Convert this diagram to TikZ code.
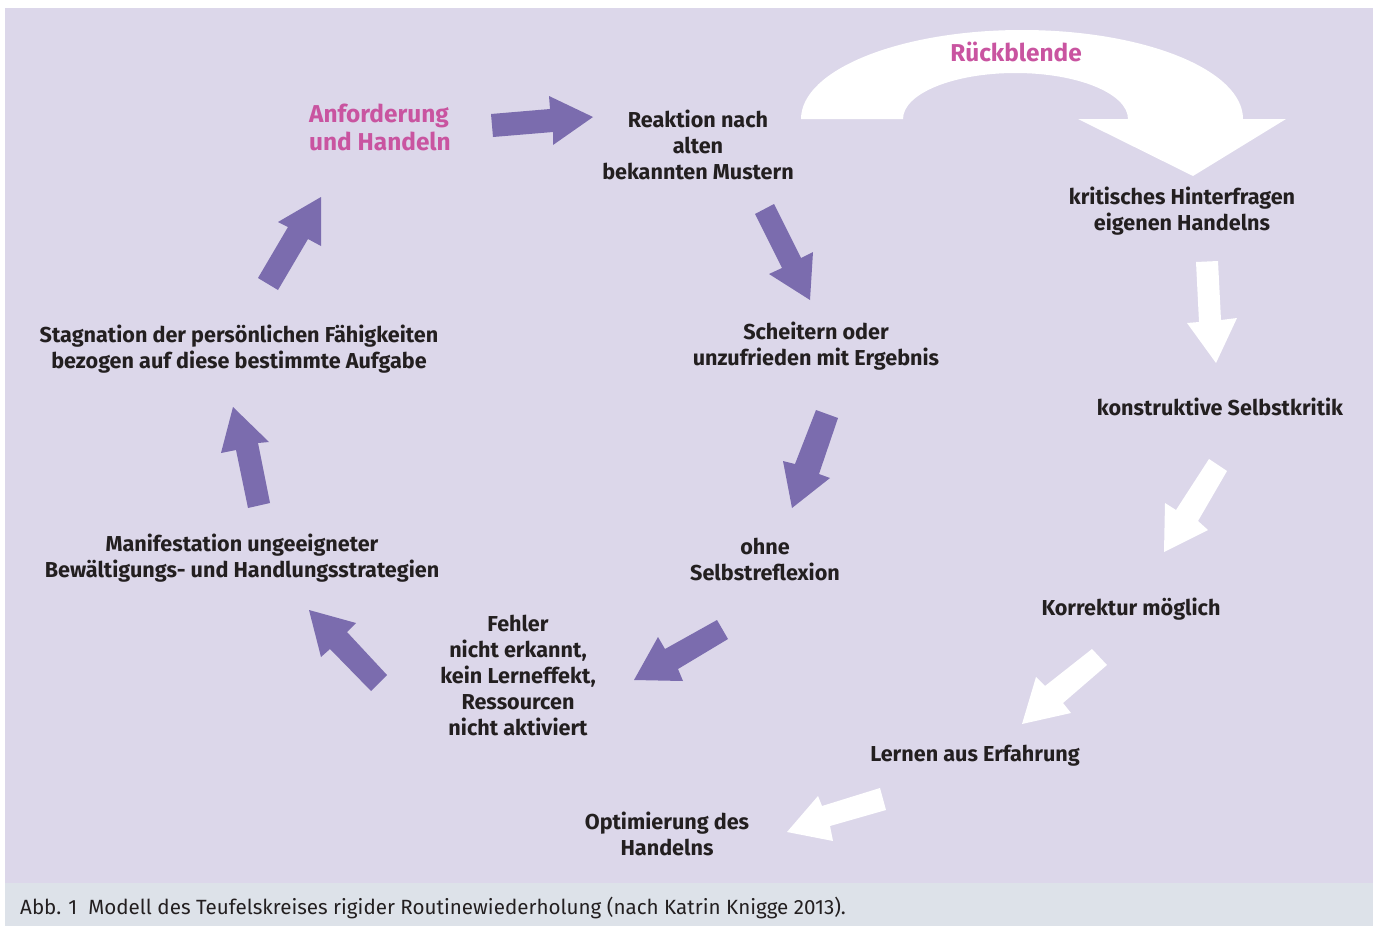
\documentclass[tikz,border=0pt]{standalone}
\usepackage{fontspec}
\setmainfont{Fira Sans}
\definecolor{bg}{RGB}{220,215,234}
\definecolor{capbg}{RGB}{221,226,233}
\definecolor{arr}{RGB}{123,108,174}
\definecolor{pinktxt}{RGB}{201,84,160}
\definecolor{txt}{RGB}{35,31,32}
\tikzset{
  lbl/.style={text=txt, align=center, inner sep=0pt, font=\bfseries\fontsize{21.6}{26}\selectfont},
  plbl/.style={text=pinktxt, inner sep=0pt, font=\bfseries\fontsize{24.4}{28}\selectfont},
  parrow/.style={fill=arr},
  warrow/.style={fill=white}
}
\begin{document}
\begin{tikzpicture}[x=1pt,y=-1pt]
\useasboundingbox (0,0) rectangle (1376,926);
\fill[white] (0,0) rectangle (1376,926);
\fill[bg] (5,8) rectangle (1373,883);
\fill[capbg] (5,883) rectangle (1373,926);

% Rueckblende arrow
\fill[warrow] (801,119) arc[start angle=180, end angle=360, x radius=221, y radius=89]
  -- (1286,119) -- (1193,176) -- (1078,119) -- (1128,119)
  arc[start angle=0, end angle=-180, x radius=112.5, y radius=46] -- cycle;

% text nodes
\node[plbl, align=left, anchor=west] (anf) at (309,127) {Anforderung\\und Handeln};
\node[plbl] (rueck) at (1016,52) {Rückblende};
\node[lbl] (reak) at (698,145) {Reaktion nach\\alten\\bekannten Mustern};
\node[lbl] (schei) at (816,346) {Scheitern oder\\unzufrieden mit Ergebnis};
\node[lbl] (ohne) at (765,559) {ohne\\Selbstreflexion};
\node[lbl] (fehl) at (518,675) {Fehler\\nicht erkannt,\\kein Lerneffekt,\\Ressourcen\\nicht aktiviert};
\node[lbl] (mani) at (242,558) {Manifestation ungeeigneter\\Bewältigungs- und Handlungsstrategien};
\node[lbl] (stag) at (239,349) {Stagnation der persönlichen Fähigkeiten\\bezogen auf diese bestimmte Aufgabe};
\node[lbl] (krit) at (1182,211) {kritisches Hinterfragen\\eigenen Handelns};
\node[lbl] (konst) at (1220,407) {konstruktive Selbstkritik};
\node[lbl] (korr) at (1131,609) {Korrektur möglich};
\node[lbl] (lern) at (975,756) {Lernen aus Erfahrung};
\node[lbl] (opt) at (667,834) {Optimierung des\\Handelns};
\node[anchor=west, inner sep=0pt, text=txt, font=\fontsize{20.6}{24}\selectfont] (cap) at (20,908)
  {Abb. 1\ \ Modell des Teufelskreises rigider Routinewiederholung (nach Katrin Knigge 2013).};

% purple arrows (cycle)
\fill[parrow] (491,114) -- (550,109) -- (549,96) -- (593,117) -- (553,145) -- (553,132) -- (493,137) -- cycle;
\fill[parrow] (755,214) -- (774,204) -- (801,258) -- (813,252) -- (810,300) -- (769,274) -- (782,268) -- cycle;
\fill[parrow] (816,410) -- (838,418) -- (819,474) -- (830,478) -- (792,508) -- (783,461) -- (795,464) -- cycle;
\fill[parrow] (717,620) -- (728,639) -- (678,669) -- (683,681) -- (634,680) -- (658,637) -- (665,649) -- cycle;
\fill[parrow] (387,675) -- (371,691) -- (330,649) -- (321,657) -- (309,610) -- (356,623) -- (347,632) -- cycle;
\fill[parrow] (248,508) -- (270,503) -- (258,443) -- (269,442) -- (233,407) -- (221,453) -- (236,450) -- cycle;
\fill[parrow] (258,278) -- (278,290) -- (308,239) -- (321,246) -- (321,197) -- (278,222) -- (288,227) -- cycle;

% white arrows
\fill[warrow] (1196,262) -- (1218,261) -- (1221,320) -- (1237,318) -- (1216,363) -- (1187,323) -- (1199,322) -- cycle;
\fill[warrow] (1209,459) -- (1227,471) -- (1198,521) -- (1208,530) -- (1164,552) -- (1165,503) -- (1176,510) -- cycle;
\fill[warrow] (1092,649) -- (1107,665) -- (1063,703) -- (1071,713) -- (1022,724) -- (1036,677) -- (1045,686) -- cycle;
\fill[warrow] (880,788) -- (886,810) -- (830,826) -- (833,841) -- (787,832) -- (818,796) -- (822,806) -- cycle;
\end{tikzpicture}
\end{document}
